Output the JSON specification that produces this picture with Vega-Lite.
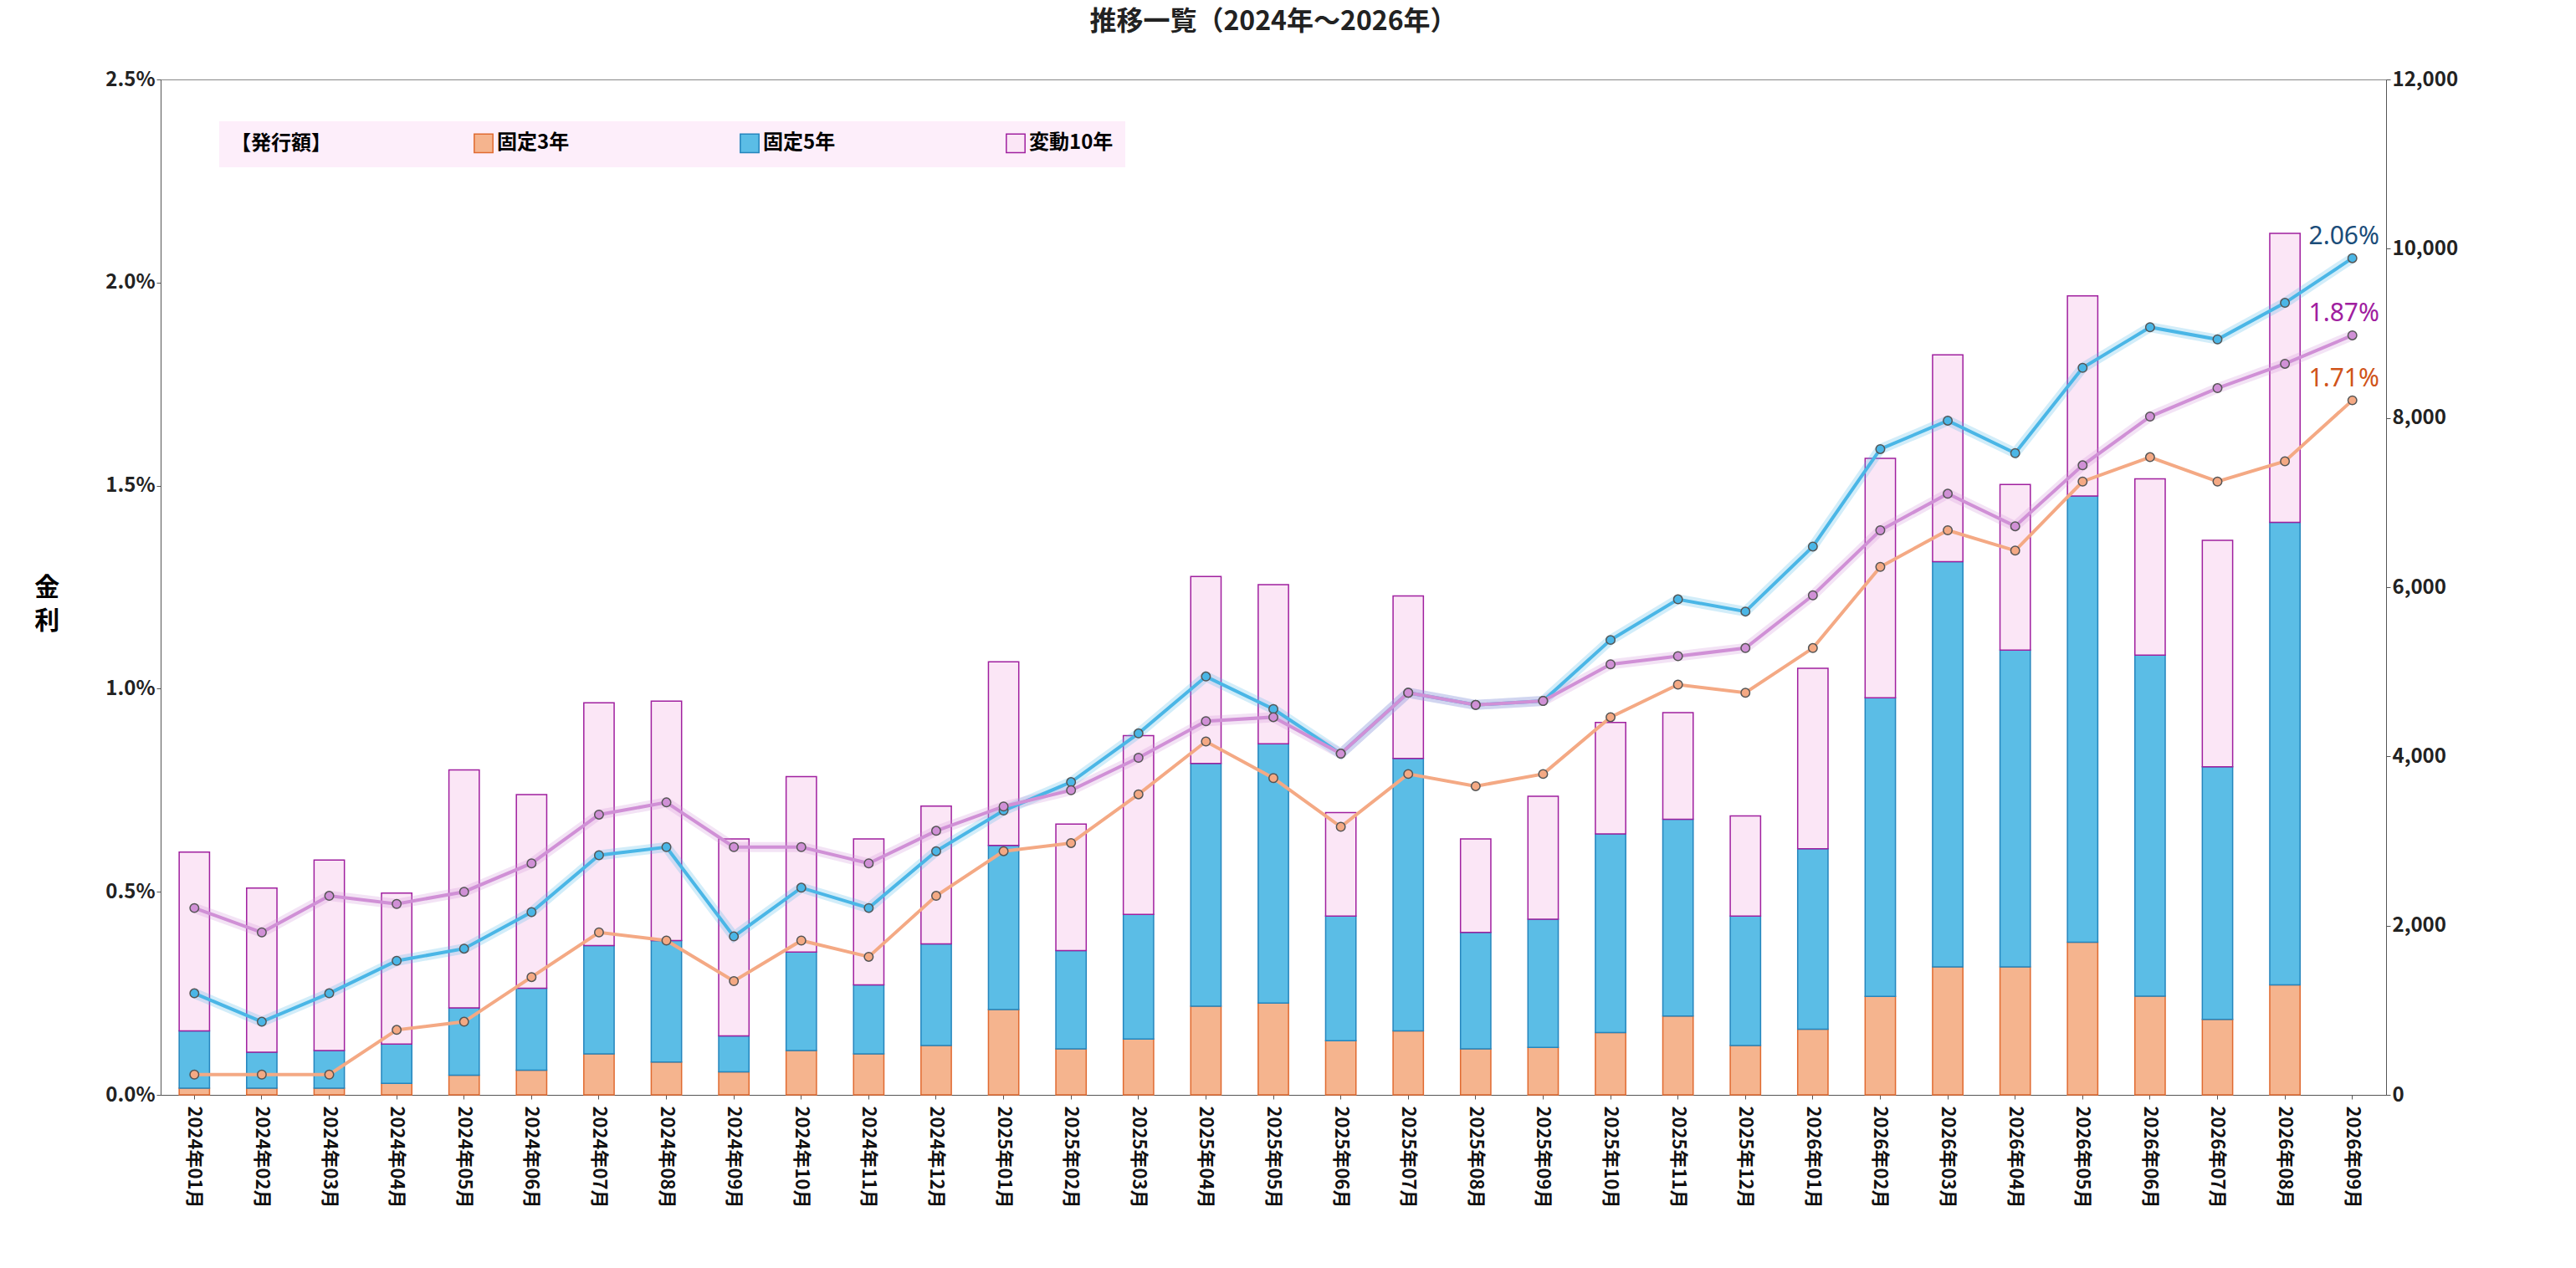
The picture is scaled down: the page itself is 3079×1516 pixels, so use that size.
{
"$schema":"https://vega.github.io/schema/vega-lite/v6.json",
"background":"white",
"padding":{"left":40,"top":10,"right":20,"bottom":10},
"title":{"text":"推移一覧（2024年～2026年）","fontSize":32,"font":"Noto Sans CJK JP","fontWeight":"bold","color":"#222","offset":40},
"config":{"font":"Noto Sans CJK JP","view":{"stroke":"#888"},"axis":{"labelFont":"Noto Sans CJK JP","titleFont":"Noto Sans CJK JP"}},
"width":2660,"height":1214,
"datasets":{
"bars":[
{"m":"2024年01月","s":"固定3年","o":1,"v":80},{"m":"2024年01月","s":"固定5年","o":2,"v":676},{"m":"2024年01月","s":"変動10年","o":3,"v":2114},
{"m":"2024年02月","s":"固定3年","o":1,"v":80},{"m":"2024年02月","s":"固定5年","o":2,"v":424},{"m":"2024年02月","s":"変動10年","o":3,"v":1940},
{"m":"2024年03月","s":"固定3年","o":1,"v":80},{"m":"2024年03月","s":"固定5年","o":2,"v":444},{"m":"2024年03月","s":"変動10年","o":3,"v":2250},
{"m":"2024年04月","s":"固定3年","o":1,"v":136},{"m":"2024年04月","s":"固定5年","o":2,"v":465},{"m":"2024年04月","s":"変動10年","o":3,"v":1784},
{"m":"2024年05月","s":"固定3年","o":1,"v":233},{"m":"2024年05月","s":"固定5年","o":2,"v":795},{"m":"2024年05月","s":"変動10年","o":3,"v":2811},
{"m":"2024年06月","s":"固定3年","o":1,"v":291},{"m":"2024年06月","s":"固定5年","o":2,"v":969},{"m":"2024年06月","s":"変動10年","o":3,"v":2288},
{"m":"2024年07月","s":"固定3年","o":1,"v":485},{"m":"2024年07月","s":"固定5年","o":2,"v":1279},{"m":"2024年07月","s":"変動10年","o":3,"v":2870},
{"m":"2024年08月","s":"固定3年","o":1,"v":388},{"m":"2024年08月","s":"固定5年","o":2,"v":1435},{"m":"2024年08月","s":"変動10年","o":3,"v":2831},
{"m":"2024年09月","s":"固定3年","o":1,"v":271},{"m":"2024年09月","s":"固定5年","o":2,"v":427},{"m":"2024年09月","s":"変動10年","o":3,"v":2327},
{"m":"2024年10月","s":"固定3年","o":1,"v":524},{"m":"2024年10月","s":"固定5年","o":2,"v":1163},{"m":"2024年10月","s":"変動10年","o":3,"v":2075},
{"m":"2024年11月","s":"固定3年","o":1,"v":485},{"m":"2024年11月","s":"固定5年","o":2,"v":814},{"m":"2024年11月","s":"変動10年","o":3,"v":1726},
{"m":"2024年12月","s":"固定3年","o":1,"v":582},{"m":"2024年12月","s":"固定5年","o":2,"v":1202},{"m":"2024年12月","s":"変動10年","o":3,"v":1629},
{"m":"2025年01月","s":"固定3年","o":1,"v":1008},{"m":"2025年01月","s":"固定5年","o":2,"v":1939},{"m":"2025年01月","s":"変動10年","o":3,"v":2172},
{"m":"2025年02月","s":"固定3年","o":1,"v":543},{"m":"2025年02月","s":"固定5年","o":2,"v":1163},{"m":"2025年02月","s":"変動10年","o":3,"v":1493},
{"m":"2025年03月","s":"固定3年","o":1,"v":659},{"m":"2025年03月","s":"固定5年","o":2,"v":1474},{"m":"2025年03月","s":"変動10年","o":3,"v":2113},
{"m":"2025年04月","s":"固定3年","o":1,"v":1047},{"m":"2025年04月","s":"固定5年","o":2,"v":2870},{"m":"2025年04月","s":"変動10年","o":3,"v":2210},
{"m":"2025年05月","s":"固定3年","o":1,"v":1086},{"m":"2025年05月","s":"固定5年","o":2,"v":3064},{"m":"2025年05月","s":"変動10年","o":3,"v":1880},
{"m":"2025年06月","s":"固定3年","o":1,"v":640},{"m":"2025年06月","s":"固定5年","o":2,"v":1474},{"m":"2025年06月","s":"変動10年","o":3,"v":1221},
{"m":"2025年07月","s":"固定3年","o":1,"v":756},{"m":"2025年07月","s":"固定5年","o":2,"v":3219},{"m":"2025年07月","s":"変動10年","o":3,"v":1920},
{"m":"2025年08月","s":"固定3年","o":1,"v":543},{"m":"2025年08月","s":"固定5年","o":2,"v":1377},{"m":"2025年08月","s":"変動10年","o":3,"v":1105},
{"m":"2025年09月","s":"固定3年","o":1,"v":562},{"m":"2025年09月","s":"固定5年","o":2,"v":1513},{"m":"2025年09月","s":"変動10年","o":3,"v":1454},
{"m":"2025年10月","s":"固定3年","o":1,"v":737},{"m":"2025年10月","s":"固定5年","o":2,"v":2346},{"m":"2025年10月","s":"変動10年","o":3,"v":1319},
{"m":"2025年11月","s":"固定3年","o":1,"v":931},{"m":"2025年11月","s":"固定5年","o":2,"v":2327},{"m":"2025年11月","s":"変動10年","o":3,"v":1260},
{"m":"2025年12月","s":"固定3年","o":1,"v":582},{"m":"2025年12月","s":"固定5年","o":2,"v":1532},{"m":"2025年12月","s":"変動10年","o":3,"v":1182},
{"m":"2026年01月","s":"固定3年","o":1,"v":776},{"m":"2026年01月","s":"固定5年","o":2,"v":2133},{"m":"2026年01月","s":"変動10年","o":3,"v":2132},
{"m":"2026年02月","s":"固定3年","o":1,"v":1163},{"m":"2026年02月","s":"固定5年","o":2,"v":3529},{"m":"2026年02月","s":"変動10年","o":3,"v":2831},
{"m":"2026年03月","s":"固定3年","o":1,"v":1512},{"m":"2026年03月","s":"固定5年","o":2,"v":4790},{"m":"2026年03月","s":"変動10年","o":3,"v":2443},
{"m":"2026年04月","s":"固定3年","o":1,"v":1512},{"m":"2026年04月","s":"固定5年","o":2,"v":3743},{"m":"2026年04月","s":"変動10年","o":3,"v":1958},
{"m":"2026年05月","s":"固定3年","o":1,"v":1803},{"m":"2026年05月","s":"固定5年","o":2,"v":5274},{"m":"2026年05月","s":"変動10年","o":3,"v":2366},
{"m":"2026年06月","s":"固定3年","o":1,"v":1166},{"m":"2026年06月","s":"固定5年","o":2,"v":4031},{"m":"2026年06月","s":"変動10年","o":3,"v":2082},
{"m":"2026年07月","s":"固定3年","o":1,"v":892},{"m":"2026年07月","s":"固定5年","o":2,"v":2986},{"m":"2026年07月","s":"変動10年","o":3,"v":2676},
{"m":"2026年08月","s":"固定3年","o":1,"v":1299},{"m":"2026年08月","s":"固定5年","o":2,"v":5468},{"m":"2026年08月","s":"変動10年","o":3,"v":3413}
],
"rates":[
{"m":"2024年01月","f3":0.05,"f5":0.25,"v10":0.46},
{"m":"2024年02月","f3":0.05,"f5":0.18,"v10":0.40},
{"m":"2024年03月","f3":0.05,"f5":0.25,"v10":0.49},
{"m":"2024年04月","f3":0.16,"f5":0.33,"v10":0.47},
{"m":"2024年05月","f3":0.18,"f5":0.36,"v10":0.50},
{"m":"2024年06月","f3":0.29,"f5":0.45,"v10":0.57},
{"m":"2024年07月","f3":0.40,"f5":0.59,"v10":0.69},
{"m":"2024年08月","f3":0.38,"f5":0.61,"v10":0.72},
{"m":"2024年09月","f3":0.28,"f5":0.39,"v10":0.61},
{"m":"2024年10月","f3":0.38,"f5":0.51,"v10":0.61},
{"m":"2024年11月","f3":0.34,"f5":0.46,"v10":0.57},
{"m":"2024年12月","f3":0.49,"f5":0.60,"v10":0.65},
{"m":"2025年01月","f3":0.60,"f5":0.70,"v10":0.71},
{"m":"2025年02月","f3":0.62,"f5":0.77,"v10":0.75},
{"m":"2025年03月","f3":0.74,"f5":0.89,"v10":0.83},
{"m":"2025年04月","f3":0.87,"f5":1.03,"v10":0.92},
{"m":"2025年05月","f3":0.78,"f5":0.95,"v10":0.93},
{"m":"2025年06月","f3":0.66,"f5":0.84,"v10":0.84},
{"m":"2025年07月","f3":0.79,"f5":0.99,"v10":0.99},
{"m":"2025年08月","f3":0.76,"f5":0.96,"v10":0.96},
{"m":"2025年09月","f3":0.79,"f5":0.97,"v10":0.97},
{"m":"2025年10月","f3":0.93,"f5":1.12,"v10":1.06},
{"m":"2025年11月","f3":1.01,"f5":1.22,"v10":1.08},
{"m":"2025年12月","f3":0.99,"f5":1.19,"v10":1.10},
{"m":"2026年01月","f3":1.10,"f5":1.35,"v10":1.23},
{"m":"2026年02月","f3":1.30,"f5":1.59,"v10":1.39},
{"m":"2026年03月","f3":1.39,"f5":1.66,"v10":1.48},
{"m":"2026年04月","f3":1.34,"f5":1.58,"v10":1.40},
{"m":"2026年05月","f3":1.51,"f5":1.79,"v10":1.55},
{"m":"2026年06月","f3":1.57,"f5":1.89,"v10":1.67},
{"m":"2026年07月","f3":1.51,"f5":1.86,"v10":1.74},
{"m":"2026年08月","f3":1.56,"f5":1.95,"v10":1.80},
{"m":"2026年09月","f3":1.71,"f5":2.06,"v10":1.87}
]},
"encoding":{"x":{"field":"m","type":"nominal","sort":null,"title":null,"axis":{"labelAngle":90,"labelFontSize":22,"labelFontWeight":"bold","labelColor":"#111","domainColor":"#555","tickColor":"#555","labelPadding":8,"labelBaseline":"middle","labelAlign":"left"}}},
"layer":[
{"data":{"name":"bars"},"mark":{"type":"bar","width":{"band":0.5},"strokeWidth":1.5},
"encoding":{
"y":{"field":"v","type":"quantitative","stack":"zero","scale":{"domain":[0,12000]},"axis":{"orient":"right","values":[0,2000,4000,6000,8000,10000,12000],"labelExpr":"format(datum.value, ',')","labelFontSize":24,"labelFontWeight":"bold","labelColor":"#222","grid":false,"domainColor":"#555","tickColor":"#555","title":["発","行","額","","（","億","円","）"],"titleAngle":0,"titleFontSize":30,"titleFontWeight":"bold","titleLineHeight":36,"titlePadding":20,"titleBaseline":"middle"}},
"order":{"field":"o"},
"fill":{"field":"s","type":"nominal","sort":["固定3年","固定5年","変動10年"],"scale":{"domain":["固定3年","固定5年","変動10年"],"range":["#f5b48e","#5bbde6","#fbe6f6"]},
"legend":{"orient":"none","legendX":70,"legendY":50,"direction":"horizontal","title":"【発行額】","titleOrient":"left","titleFontSize":24,"titleFontWeight":"bold","titlePadding":170,"labelFontSize":24,"labelFontWeight":"bold","columnPadding":200,"symbolType":"square","symbolSize":500,"fillColor":"#fdeefa","padding":14,"symbolStrokeWidth":1.5}},
"stroke":{"field":"s","type":"nominal","scale":{"domain":["固定3年","固定5年","変動10年"],"range":["#e06a30","#2585bd","#a0209f"]}}}},
{"data":{"name":"rates"},"transform":[{"fold":["f3","f5","v10"],"as":["k","r"]},{"lookup":"k","from":{"data":{"values":[{"k":"f3","n":"固定3年"},{"k":"f5","n":"固定5年"},{"k":"v10","n":"変動10年"}]},"key":"k","fields":["n"]}},{"calculate":"format(datum.r,'.2f')+'%'","as":"lbl"}],
"encoding":{"y":{"field":"r","type":"quantitative","scale":{"domain":[0,2.5]},"axis":{"orient":"left","values":[0,0.5,1,1.5,2,2.5],"labelExpr":"format(datum.value,'.1f')+'%'","labelFontSize":24,"labelFontWeight":"bold","labelColor":"#222","gridColor":"#dddddd","domainColor":"#555","tickColor":"#555","title":["金","利"],"titleAngle":0,"titleFontSize":30,"titleFontWeight":"bold","titleLineHeight":40,"titlePadding":30,"titleBaseline":"middle"}}},
"layer":[
{"transform":[{"filter":"datum.k!='f3'"}],"mark":{"type":"line","strokeWidth":12,"opacity":0.25},"encoding":{"color":{"field":"n","type":"nominal","scale":{"domain":["固定3年","固定5年","変動10年"],"range":["#f4a984","#4ab6e6","#d090d6"]},"legend":null}}},
{"mark":{"type":"line","strokeWidth":4,"point":{"filled":true,"size":110,"strokeWidth":1.5,"stroke":"#555"}},"encoding":{"color":{"field":"n","type":"nominal","scale":{"domain":["固定3年","固定5年","変動10年"],"range":["#f4a984","#4ab6e6","#d090d6"]},
"legend":{"orient":"none","legendX":70,"legendY":148,"direction":"horizontal","title":"【金利】","titleOrient":"left","titleFontSize":24,"titleFontWeight":"bold","titlePadding":200,"labelFontSize":24,"labelFontWeight":"bold","columnPadding":200,"symbolSize":500,"symbolStrokeWidth":4,"fillColor":"#fdeefa","padding":14}}}},
{"transform":[{"filter":"datum.m=='2026年09月'"}],"mark":{"type":"text","dx":-10,"dy":-26,"align":"center","fontSize":30,"font":"Noto Sans"},"encoding":{"text":{"field":"lbl"},"stroke":{"value":null},"fill":{"field":"n","type":"nominal","scale":{"domain":["固定3年","固定5年","変動10年"],"range":["#d0541a","#1b4d7a","#a0209f"]},"legend":null}}}
]}
],
"resolve":{"scale":{"y":"independent","fill":"independent","stroke":"independent","color":"independent"}}
}
